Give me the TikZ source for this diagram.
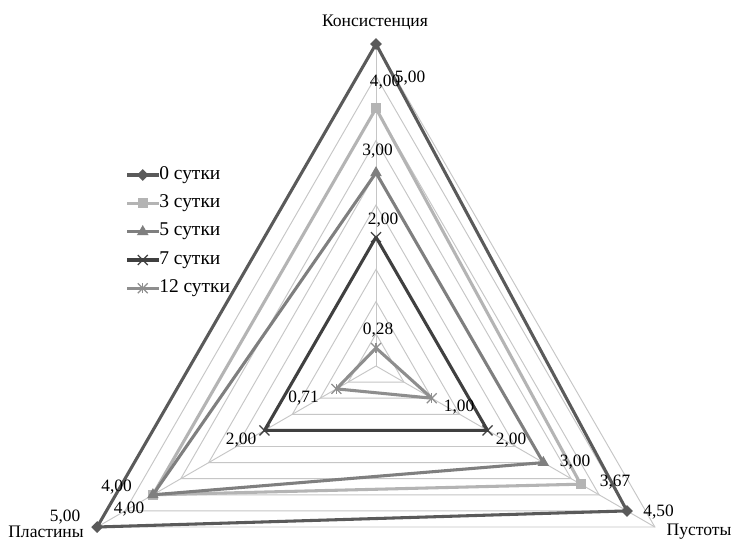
\documentclass[tikz,border=0pt]{standalone}
\usepackage{fontspec}
\setmainfont{Liberation Serif}
\usetikzlibrary{shapes.geometric,shapes.misc,calc}
\definecolor{gridc}{HTML}{C6C6C6}
\definecolor{sA}{HTML}{5A5A5A}
\definecolor{sB}{HTML}{B4B4B4}
\definecolor{sC}{HTML}{7F7F7F}
\definecolor{sD}{HTML}{404040}
\definecolor{sE}{HTML}{8E8E8E}
\tikzset{
  gridline/.style={draw=gridc, line width=0.7pt},
  serA/.style={draw=sA, line width=2.3pt, line join=round},
  serB/.style={draw=sB, line width=2.3pt, line join=round},
  serC/.style={draw=sC, line width=2.3pt, line join=round},
  serD/.style={draw=sD, line width=2.3pt, line join=round},
  serE/.style={draw=sE, line width=2.3pt, line join=round},
  mkA/.style={diamond, fill=sA, inner sep=0pt, minimum size=9pt},
  mkB/.style={rectangle, fill=sB, inner sep=0pt, minimum size=7.5pt},
  mkC/.style={regular polygon, regular polygon sides=3, fill=sC, inner sep=0pt, minimum size=10pt},
  mkD/.style={cross out, draw=sD, line width=1pt, inner sep=0pt, minimum size=6.5pt},
  mkE/.style={cross out, draw=sE, line width=0.9pt, inner sep=0pt, minimum size=6.5pt},
  lbl/.style={font=\fontsize{13}{15}\selectfont, inner sep=0pt},
  axlbl/.style={font=\fontsize{13.2}{15}\selectfont, inner sep=0pt},
  lgtext/.style={font=\fontsize{14.6}{17}\selectfont, inner sep=0pt, anchor=west},
}
\begin{document}
\begin{tikzpicture}[x=0.75pt,y=-0.75pt]
\useasboundingbox (0,0) rectangle (734,545);
\fill[white] (0,0) rectangle (734,545);
\coordinate (C) at (376,366);
\def\u{64.4}
% grid
\begin{scope}[shift={(C)}]
\foreach \k in {1,...,10}{
  \draw[gridline] (-90:\k*0.5*\u) -- (30:\k*0.5*\u) -- (150:\k*0.5*\u) -- cycle;
}
\coordinate (TK) at (-90:5*\u);
\coordinate (TU) at (30:5*\u);
\coordinate (TP) at (150:5*\u);
% data points
\coordinate (A1) at (-90:5*\u);   \coordinate (A2) at (30:4.5*\u);  \coordinate (A3) at (150:5*\u);
\coordinate (B1) at (-90:4*\u);   \coordinate (B2) at (30:3.67*\u); \coordinate (B3) at (150:4*\u);
\coordinate (C1) at (-90:3*\u);   \coordinate (C2) at (30:3*\u);    \coordinate (C3) at (150:4*\u);
\coordinate (D1) at (-90:2*\u);   \coordinate (D2) at (30:2*\u);    \coordinate (D3) at (150:2*\u);
\coordinate (E1) at (-90:0.28*\u);\coordinate (E2) at (30:1*\u);    \coordinate (E3) at (150:0.71*\u);
\end{scope}
\draw[gridline] (C) -- (TK);
\draw[gridline] (C) -- (TU);
\draw[gridline] (C) -- (TP);
% series
\draw[serA] (A1) -- (A2) -- (A3) -- cycle;
\node[mkA] (mA1) at (A1) {}; \node[mkA] (mA2) at (A2) {}; \node[mkA] (mA3) at (A3) {};
\draw[serB] (B1) -- (B2) -- (B3) -- cycle;
\node[mkB] (mB1) at (B1) {}; \node[mkB] (mB2) at (B2) {}; \node[mkB] (mB3) at (B3) {};
\draw[serC] (C1) -- (C2) -- (C3) -- cycle;
\node[mkC] (mC1) at (C1) {}; \node[mkC] (mC2) at (C2) {}; \node[mkC] (mC3) at (C3) {};
\draw[serD] (D1) -- (D2) -- (D3) -- cycle;
\node[mkD] (mD1) at (D1) {}; \node[mkD] (mD2) at (D2) {}; \node[mkD] (mD3) at (D3) {};
\draw[serE] (E1) -- (E2) -- (E3) -- cycle;
\foreach \n in {E1,E2,E3}{
  \node[mkE] (m\n) at (\n) {};
  \draw[draw=sE, line width=0.9pt] (m\n.north) -- (m\n.south);
}
% data labels
\node[lbl] (lA1) at (410,78) {5,00};
\node[lbl] (lA2) at (658.5,512) {4,50};
\node[lbl] (lA3) at (65,517) {5,00};
\node[lbl] (lB1) at (385,82) {4,00};
\node[lbl] (lB2) at (615,482.5) {3,67};
\node[lbl] (lB3) at (129,509.5) {4,00};
\node[lbl] (lC1) at (377.5,151) {3,00};
\node[lbl] (lC2) at (575,462) {3,00};
\node[lbl] (lC3) at (116.5,487.5) {4,00};
\node[lbl] (lD1) at (383,220) {2,00};
\node[lbl] (lD2) at (511,440) {2,00};
\node[lbl] (lD3) at (241,440) {2,00};
\node[lbl] (lE1) at (378,330) {0,28};
\node[lbl] (lE2) at (459,407) {1,00};
\node[lbl] (lE3) at (303.5,398.5) {0,71};
% axis labels
\node[axlbl] (axK) at (375,22) {Консистенция};
\node[axlbl] (axP) at (46,532) {Пластины};
\node[axlbl] (axU) at (699,532) {Пустоты};
% legend
\foreach \i/\y/\s/\t in {A/175/A/0 сутки, B/203.3/B/3 сутки, C/231.7/C/5 сутки, D/260/D/7 сутки, E/288.3/E/12 сутки}{
  \coordinate (lg\i a) at (127,\y);
  \coordinate (lg\i b) at (158.5,\y);
  \draw[ser\s] (lg\i a) -- (lg\i b);
  \node[mk\s] (lgm\i) at ($(lg\i a)!0.5!(lg\i b)$) {};
  \node[lgtext] (lgt\i) at (159,\y) {\t};
}
\draw[draw=sE, line width=0.9pt] (lgmE.north) -- (lgmE.south);
\end{tikzpicture}
\end{document}
